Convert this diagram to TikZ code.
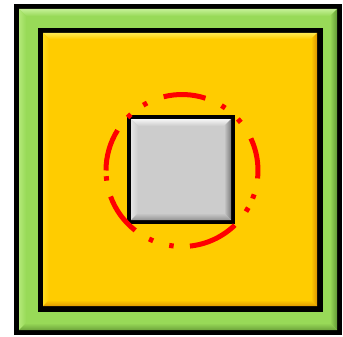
\documentclass[tikz,border=0pt]{standalone}
\usepackage{tikz}
\definecolor{gmain}{RGB}{152,218,88}
\definecolor{gtop}{RGB}{196,240,150}
\definecolor{gleft}{RGB}{178,232,120}
\definecolor{gright}{RGB}{100,155,55}
\definecolor{gbottom}{RGB}{110,165,60}
\definecolor{ymain}{RGB}{255,204,0}
\definecolor{ytop}{RGB}{255,232,80}
\definecolor{yleft}{RGB}{255,218,30}
\definecolor{yright}{RGB}{222,150,0}
\definecolor{ybottom}{RGB}{225,155,0}
\definecolor{smain}{RGB}{204,204,204}
\definecolor{stop}{RGB}{246,246,246}
\definecolor{sleft}{RGB}{228,228,228}
\definecolor{sright}{RGB}{125,125,125}
\definecolor{sbottom}{RGB}{150,150,150}
\definecolor{myred}{RGB}{255,0,0}
\newcommand\mybevel[6]{%
  \fill[#6main] (#1,#2) rectangle (#3,#4);
  \shade[top color=#6top, bottom color=#6main] (#1,#2) -- (#3,#2) -- ({#3-#5},{#2+#5}) -- ({#1+#5},{#2+#5}) -- cycle;
  \shade[left color=#6left, right color=#6main] (#1,#2) -- ({#1+#5},{#2+#5}) -- ({#1+#5},{#4-#5}) -- (#1,#4) -- cycle;
  \shade[left color=#6main, right color=#6right] (#3,#2) -- (#3,#4) -- ({#3-#5},{#4-#5}) -- ({#3-#5},{#2+#5}) -- cycle;
  \shade[top color=#6main, bottom color=#6bottom] (#1,#4) -- (#3,#4) -- ({#3-#5},{#4-#5}) -- ({#1+#5},{#4-#5}) -- cycle;
}
\tikzset{ringpart/.style={draw=myred, line width=5pt}}
\begin{document}
\begin{tikzpicture}[x=1pt,y=-1pt]
\useasboundingbox (0,0) rectangle (343,337);
\fill[white] (0,0) rectangle (343,337);
% outer frame
\fill[black] (14,4) rectangle (342,335);
\mybevel{19}{9}{337}{330}{7}{g}
% inner panel
\fill[black] (38,28) rectangle (323,312);
\mybevel{43}{33}{317}{306}{6}{y}
% square
\fill[black] (127,115) rectangle (235,224);
\mybevel{131}{119}{231}{220}{7}{s}
% dash-dot-dot ring
\coordinate (ctr) at (182,170.5);
\foreach \a/\b in {-25/6, 46/84, 128/160, 180/212, 256/288}
  \draw[ringpart] (ctr) ++(\a:76) arc[start angle=\a, end angle=\b, radius=76];
\foreach \c in {20, 31, 98, 114, 174, 226, 241, 303, 319}
  \draw[ringpart] (ctr) ++({\c-1.7}:76) arc[start angle={\c-1.7}, end angle={\c+1.7}, radius=76];
\end{tikzpicture}
\end{document}
